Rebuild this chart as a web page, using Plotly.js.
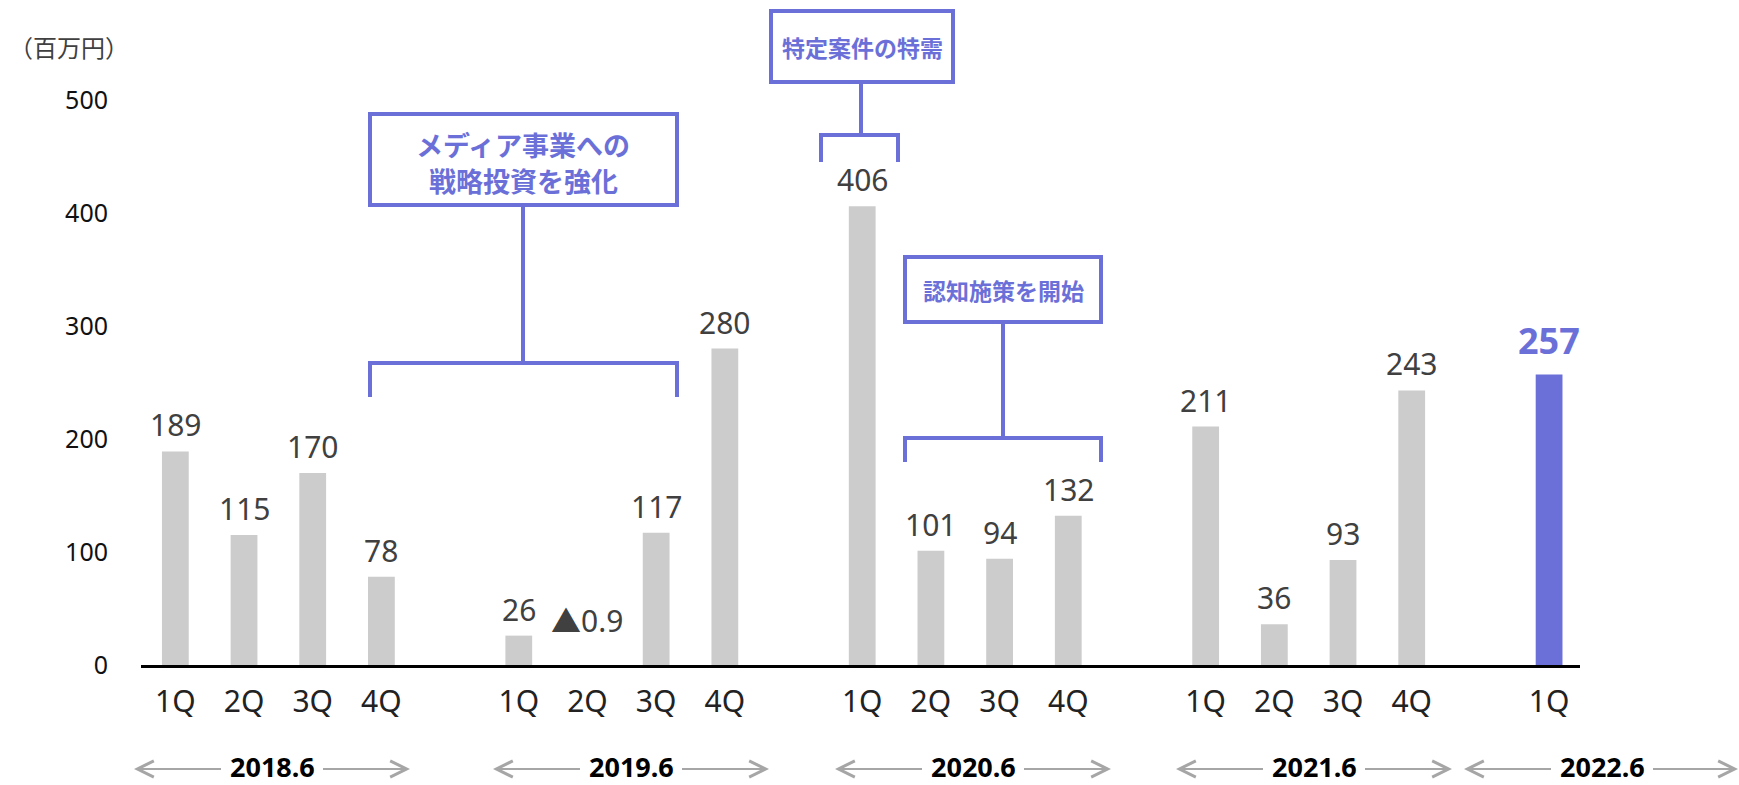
<!DOCTYPE html>
<html><head><meta charset="utf-8">
<script src="https://cdn.plot.ly/plotly-3.0.1.min.js"></script>
<style>html,body{margin:0;padding:0;background:#fff;} #chart{width:1739px;height:785px;}</style>
</head><body><div id="chart"></div>
<script>
// ---- data ----
const fiscalYears = ['2018.6', '2019.6', '2020.6', '2021.6', '2022.6'];
const quarterLabels = ['1Q', '2Q', '3Q', '4Q'];
const values2018 = [189, 115, 170, 78];
const values2019 = [26, -0.9, 117, 280];
const values2020 = [406, 101, 94, 132];
const values2021 = [211, 36, 93, 243];
const values2022 = [257];
const yTickValues = [0, 100, 200, 300, 400, 500];
const unitLabel = '（百万円）';
const callout1Lines = ['メディア事業への', '戦略投資を強化'];
const callout2Text = '特定案件の特需';
const callout3Text = '認知施策を開始';

// ---- styles ----
const GRAY = '#cccccc', BLUE = '#6b70d8', TXT = '#404040';
const FONT = 'Noto Sans, Noto Sans CJK JP, sans-serif';
const JFONT = 'Noto Sans CJK JP, Noto Sans, sans-serif';

const groups = [values2018, values2019, values2020, values2021, values2022];
const xs = [], ys = [], colors = [], tickVals = [], tickText = [], labels = [];
groups.forEach((vals, g) => {
  vals.forEach((v, q) => {
    const pos = g * 5 + q;
    const last = (g === groups.length - 1);
    xs.push(pos); ys.push(v);
    colors.push(last ? BLUE : GRAY);
    tickVals.push(pos); tickText.push(quarterLabels[q]);
    labels.push({pos, v, last});
  });
});

// ---- geometry ----
const W = 1739, H = 785, L = 141, R = 159, T = 20, B = 120;
const plotW = W - L - R, plotH = H - T - B;
const px = X => (X - L) / plotW;
const py = Y => (H - B - Y) / plotH;

const shapes = [], annotations = [];
function line(x0, y0, x1, y1) {
  shapes.push({type: 'line', xref: 'paper', yref: 'paper', x0: px(x0), y0: py(y0), x1: px(x1), y1: py(y1),
    line: {color: BLUE, width: 4}});
}
function box(x0, y0, x1, y1) {
  shapes.push({type: 'rect', xref: 'paper', yref: 'paper', x0: px(x0), y0: py(y0), x1: px(x1), y1: py(y1),
    line: {color: BLUE, width: 4}, fillcolor: '#ffffff'});
}
function ctext(text, X, Y, size) {
  annotations.push({xref: 'paper', yref: 'paper', x: px(X), y: py(Y), text, showarrow: false,
    xanchor: 'center', yanchor: 'middle', font: {family: JFONT, size, color: BLUE, weight: 'bold'}});
}
// callout 1
line(523, 205, 523, 363); line(370, 363, 677, 363); line(370, 361, 370, 397); line(677, 361, 677, 397);
box(370, 114, 677, 205);
ctext(callout1Lines[0], 523, 144, 27);
ctext(callout1Lines[1], 523, 180, 27);
// callout 2
line(861, 82, 861, 135); line(821, 135, 898, 135); line(821, 133, 821, 162); line(898, 133, 898, 162);
box(771, 11, 953, 82);
ctext(callout2Text, 862, 47, 23);
// callout 3
line(1003, 322, 1003, 438); line(905, 438, 1101, 438); line(905, 436, 905, 462); line(1101, 436, 1101, 462);
box(905, 257, 1101, 322);
ctext(callout3Text, 1003, 290, 23);

// value labels
labels.forEach(d => {
  const neg = d.v < 0;
  annotations.push({xref: 'x', yref: 'y', x: d.pos, y: Math.max(d.v, 0), yanchor: 'bottom', xanchor: 'center',
    yshift: neg ? 22 : (d.last ? 8 : 4), showarrow: false,
    text: neg ? '▲' + Math.abs(d.v) : String(d.v),
    font: d.last ? {family: FONT, size: 36, color: BLUE, weight: 'bold'} : {family: FONT, size: 30, color: TXT}});
});

// unit label
annotations.push({xref: 'paper', yref: 'paper', x: px(7), y: py(47), xanchor: 'left', yanchor: 'middle',
  text: unitLabel, showarrow: false, font: {family: JFONT, size: 24, color: TXT}});

// fiscal year labels with arrows
const yearCentersPx = [272, 631, 973, 1314, 1602];
fiscalYears.forEach((fy, i) => {
  const c = yearCentersPx[i];
  annotations.push({xref: 'paper', yref: 'paper', x: px(c), y: py(766), text: fy, showarrow: false,
    xanchor: 'center', yanchor: 'middle', font: {family: FONT, size: 27, color: '#000', weight: 'bold'}});
  [-1, 1].forEach(s => {
    annotations.push({xref: 'paper', yref: 'paper', x: px(c + s * 138), y: py(769), text: ' ',
      showarrow: true, arrowhead: 5, arrowsize: 1.6, arrowwidth: 2, arrowcolor: '#a6a6a6',
      ax: -s * 90, ay: 0, axref: 'pixel', ayref: 'pixel', standoff: 0, startstandoff: 0});
  });
});

const trace = {type: 'bar', x: xs, y: ys, width: 0.39, marker: {color: colors}, hoverinfo: 'skip'};

const layout = {
  width: W, height: H, margin: {l: L, r: R, t: T, b: B},
  paper_bgcolor: '#fff', plot_bgcolor: '#fff', showlegend: false,
  font: {family: FONT},
  xaxis: {range: [-0.5, 20.45], tickvals: tickVals, ticktext: tickText, showgrid: false, zeroline: false,
    showline: true, linecolor: '#000', linewidth: 3, ticks: '', ticklabelstandoff: 8,
    tickfont: {family: FONT, size: 30, color: '#222'}},
  yaxis: {range: [0, 570.8], tickvals: yTickValues, showgrid: false, zeroline: false, showline: false,
    ticks: '', ticklabelstandoff: 32, tickfont: {family: FONT, size: 25, color: '#111'}},
  shapes, annotations
};
Plotly.newPlot('chart', [trace], layout, {displayModeBar: false, staticPlot: true});
</script></body></html>
